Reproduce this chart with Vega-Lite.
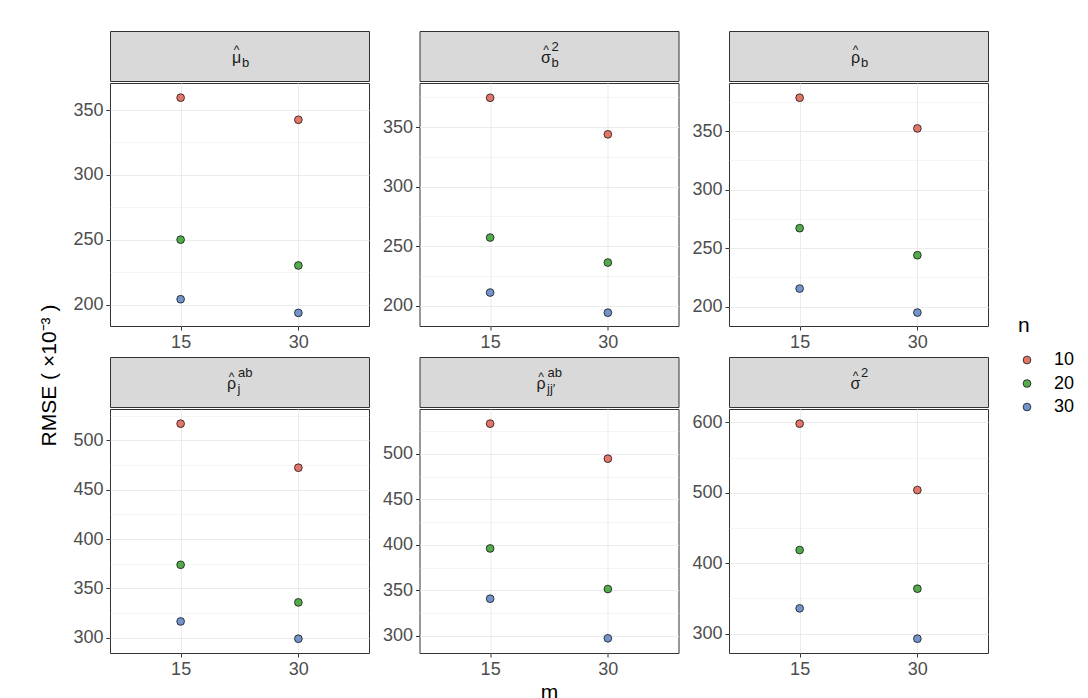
{
  "$schema": "https://vega.github.io/schema/vega-lite/v6.json",
  "padding": {"left": 39, "top": 30, "right": 5, "bottom": 5},
  "datasets": {
    "rmse": [
      {"param": "mu_b", "m": 15, "n": 10, "rmse": 359.5},
      {"param": "mu_b", "m": 30, "n": 10, "rmse": 342.5},
      {"param": "mu_b", "m": 15, "n": 20, "rmse": 250.2},
      {"param": "mu_b", "m": 30, "n": 20, "rmse": 230.3},
      {"param": "mu_b", "m": 15, "n": 30, "rmse": 204.3},
      {"param": "mu_b", "m": 30, "n": 30, "rmse": 193.8},
      {"param": "sigma_b2", "m": 15, "n": 10, "rmse": 374.6},
      {"param": "sigma_b2", "m": 30, "n": 10, "rmse": 343.9},
      {"param": "sigma_b2", "m": 15, "n": 20, "rmse": 257.2},
      {"param": "sigma_b2", "m": 30, "n": 20, "rmse": 236.2},
      {"param": "sigma_b2", "m": 15, "n": 30, "rmse": 211.0},
      {"param": "sigma_b2", "m": 30, "n": 30, "rmse": 194.1},
      {"param": "rho_b", "m": 15, "n": 10, "rmse": 378.5},
      {"param": "rho_b", "m": 30, "n": 10, "rmse": 352.3},
      {"param": "rho_b", "m": 15, "n": 20, "rmse": 267.0},
      {"param": "rho_b", "m": 30, "n": 20, "rmse": 243.9},
      {"param": "rho_b", "m": 15, "n": 30, "rmse": 215.4},
      {"param": "rho_b", "m": 30, "n": 30, "rmse": 194.9},
      {"param": "rho_j", "m": 15, "n": 10, "rmse": 516.9},
      {"param": "rho_j", "m": 30, "n": 10, "rmse": 472.3},
      {"param": "rho_j", "m": 15, "n": 20, "rmse": 373.9},
      {"param": "rho_j", "m": 30, "n": 20, "rmse": 335.8},
      {"param": "rho_j", "m": 15, "n": 30, "rmse": 316.5},
      {"param": "rho_j", "m": 30, "n": 30, "rmse": 299.0},
      {"param": "rho_jj", "m": 15, "n": 10, "rmse": 533.4},
      {"param": "rho_jj", "m": 30, "n": 10, "rmse": 494.8},
      {"param": "rho_jj", "m": 15, "n": 20, "rmse": 396.0},
      {"param": "rho_jj", "m": 30, "n": 20, "rmse": 351.3},
      {"param": "rho_jj", "m": 15, "n": 30, "rmse": 340.7},
      {"param": "rho_jj", "m": 30, "n": 30, "rmse": 297.1},
      {"param": "sigma2", "m": 15, "n": 10, "rmse": 598.2},
      {"param": "sigma2", "m": 30, "n": 10, "rmse": 504.0},
      {"param": "sigma2", "m": 15, "n": 20, "rmse": 418.8},
      {"param": "sigma2", "m": 30, "n": 20, "rmse": 363.9},
      {"param": "sigma2", "m": 15, "n": 30, "rmse": 336.0},
      {"param": "sigma2", "m": 30, "n": 30, "rmse": 292.9}
    ],
    "strips": [
      {"param": "mu_b", "base": "μ", "sup": "", "sub": "b"},
      {"param": "sigma_b2", "base": "σ", "sup": "2", "sub": "b"},
      {"param": "rho_b", "base": "ρ", "sup": "", "sub": "b"},
      {"param": "rho_j", "base": "ρ", "sup": "ab", "sub": "j"},
      {"param": "rho_jj", "base": "ρ", "sup": "ab", "sub": "jj′"},
      {"param": "sigma2", "base": "σ", "sup": "2", "sub": ""}
    ]
  },
  "title": {"text": "RMSE ( ×10⁻³ )", "orient": "left", "anchor": "middle", "fontSize": 21, "fontWeight": "normal", "color": "black", "offset": 12, "dx": -9},
  "columns": 3,
  "spacing": {"row": 4, "column": 11.5},
  "concat": [
    {"spacing": 0, "vconcat": [
      {"width": 259, "height": 50, "data": {"name": "strips"}, "transform": [{"filter": "datum.param === 'mu_b'"}],
       "view": {"fill": "#D9D9D9", "stroke": "#333333"},
       "layer": [
        {"mark": {"type": "text", "text": "^", "fontSize": 12, "dx": -3, "dy": -2, "baseline": "alphabetic", "color": "#1A1A1A"}},
        {"mark": {"type": "text", "fontSize": 16, "dx": -3, "dy": 7, "baseline": "alphabetic", "color": "#1A1A1A"}, "encoding": {"text": {"field": "base"}}},
        {"mark": {"type": "text", "fontSize": 13, "align": "left", "dx": 2.5, "dy": 11, "baseline": "alphabetic", "color": "#1A1A1A"}, "encoding": {"text": {"field": "sub"}}},
        {"mark": {"type": "text", "fontSize": 13, "align": "left", "dx": 2.5, "dy": -5.5, "baseline": "alphabetic", "color": "#1A1A1A"}, "encoding": {"text": {"field": "sup"}}}
       ]},
      {"width": 259, "height": 243, "data": {"name": "rmse"}, "transform": [{"filter": "datum.param === 'mu_b'"}],
       "mark": {"type": "point", "filled": true, "size": 60, "stroke": "black", "strokeWidth": 0.7, "opacity": 1},
       "encoding": {
        "x": {"field": "m", "type": "ordinal", "scale": {"type": "point", "padding": 0.6}, "axis": {"title": null, "grid": true, "labelAngle": 0}},
        "y": {"field": "rmse", "type": "quantitative", "scale": {"domain": [183.7, 370.8], "nice": false, "zero": false},
              "axis": {"title": null, "values": [200, 225, 250, 275, 300, 325, 350], "labelExpr": "datum.value % 50 === 0 ? datum.label : ''",
                       "gridWidth": {"condition": {"test": "datum.value % 50 === 0", "value": 1.1}, "value": 0.55},
                       "tickOpacity": {"condition": {"test": "datum.value % 50 === 0", "value": 1}, "value": 0}}},
        "fill": {"field": "n", "type": "nominal", "scale": {"domain": [10, 20, 30], "range": ["#E2766A", "#55AA4E", "#7393CB"]},
                 "legend": {"title": "n", "orient": "none", "legendX": 908, "legendY": 284}}
       }}
    ]},
    {"spacing": 0, "vconcat": [
      {"width": 259, "height": 50, "data": {"name": "strips"}, "transform": [{"filter": "datum.param === 'sigma_b2'"}],
       "view": {"fill": "#D9D9D9", "stroke": "#333333"},
       "layer": [
        {"mark": {"type": "text", "text": "^", "fontSize": 12, "dx": -3, "dy": -2, "baseline": "alphabetic", "color": "#1A1A1A"}},
        {"mark": {"type": "text", "fontSize": 16, "dx": -3, "dy": 7, "baseline": "alphabetic", "color": "#1A1A1A"}, "encoding": {"text": {"field": "base"}}},
        {"mark": {"type": "text", "fontSize": 13, "align": "left", "dx": 2.5, "dy": 11, "baseline": "alphabetic", "color": "#1A1A1A"}, "encoding": {"text": {"field": "sub"}}},
        {"mark": {"type": "text", "fontSize": 13, "align": "left", "dx": 2.5, "dy": -5.5, "baseline": "alphabetic", "color": "#1A1A1A"}, "encoding": {"text": {"field": "sup"}}}
       ]},
      {"width": 259, "height": 243, "data": {"name": "rmse"}, "transform": [{"filter": "datum.param === 'sigma_b2'"}],
       "mark": {"type": "point", "filled": true, "size": 60, "stroke": "black", "strokeWidth": 0.7, "opacity": 1},
       "encoding": {
        "x": {"field": "m", "type": "ordinal", "scale": {"type": "point", "padding": 0.6}, "axis": {"title": null, "grid": true, "labelAngle": 0}},
        "y": {"field": "rmse", "type": "quantitative", "scale": {"domain": [182.9, 387.0], "nice": false, "zero": false},
              "axis": {"title": null, "values": [200, 225, 250, 275, 300, 325, 350, 375], "labelExpr": "datum.value % 50 === 0 ? datum.label : ''",
                       "gridWidth": {"condition": {"test": "datum.value % 50 === 0", "value": 1.1}, "value": 0.55},
                       "tickOpacity": {"condition": {"test": "datum.value % 50 === 0", "value": 1}, "value": 0}}},
        "fill": {"field": "n", "type": "nominal"}
       }}
    ]},
    {"spacing": 0, "vconcat": [
      {"width": 259, "height": 50, "data": {"name": "strips"}, "transform": [{"filter": "datum.param === 'rho_b'"}],
       "view": {"fill": "#D9D9D9", "stroke": "#333333"},
       "layer": [
        {"mark": {"type": "text", "text": "^", "fontSize": 12, "dx": -3, "dy": -2, "baseline": "alphabetic", "color": "#1A1A1A"}},
        {"mark": {"type": "text", "fontSize": 16, "dx": -3, "dy": 7, "baseline": "alphabetic", "color": "#1A1A1A"}, "encoding": {"text": {"field": "base"}}},
        {"mark": {"type": "text", "fontSize": 13, "align": "left", "dx": 2.5, "dy": 11, "baseline": "alphabetic", "color": "#1A1A1A"}, "encoding": {"text": {"field": "sub"}}},
        {"mark": {"type": "text", "fontSize": 13, "align": "left", "dx": 2.5, "dy": -5.5, "baseline": "alphabetic", "color": "#1A1A1A"}, "encoding": {"text": {"field": "sup"}}}
       ]},
      {"width": 259, "height": 243, "data": {"name": "rmse"}, "transform": [{"filter": "datum.param === 'rho_b'"}],
       "mark": {"type": "point", "filled": true, "size": 60, "stroke": "black", "strokeWidth": 0.7, "opacity": 1},
       "encoding": {
        "x": {"field": "m", "type": "ordinal", "scale": {"type": "point", "padding": 0.6}, "axis": {"title": null, "grid": true, "labelAngle": 0}},
        "y": {"field": "rmse", "type": "quantitative", "scale": {"domain": [183.4, 391.1], "nice": false, "zero": false},
              "axis": {"title": null, "values": [200, 225, 250, 275, 300, 325, 350, 375], "labelExpr": "datum.value % 50 === 0 ? datum.label : ''",
                       "gridWidth": {"condition": {"test": "datum.value % 50 === 0", "value": 1.1}, "value": 0.55},
                       "tickOpacity": {"condition": {"test": "datum.value % 50 === 0", "value": 1}, "value": 0}}},
        "fill": {"field": "n", "type": "nominal"}
       }}
    ]},
    {"spacing": 0, "vconcat": [
      {"width": 259, "height": 50, "data": {"name": "strips"}, "transform": [{"filter": "datum.param === 'rho_j'"}],
       "view": {"fill": "#D9D9D9", "stroke": "#333333"},
       "layer": [
        {"mark": {"type": "text", "text": "^", "fontSize": 12, "dx": -8, "dy": -1.5, "baseline": "alphabetic", "color": "#1A1A1A"}},
        {"mark": {"type": "text", "fontSize": 16, "dx": -8, "dy": 7, "baseline": "alphabetic", "color": "#1A1A1A"}, "encoding": {"text": {"field": "base"}}},
        {"mark": {"type": "text", "fontSize": 13, "align": "left", "dx": -2, "dy": 10.5, "baseline": "alphabetic", "color": "#1A1A1A"}, "encoding": {"text": {"field": "sub"}}},
        {"mark": {"type": "text", "fontSize": 13, "align": "left", "dx": -1.5, "dy": -5.5, "baseline": "alphabetic", "color": "#1A1A1A"}, "encoding": {"text": {"field": "sup"}}}
       ]},
      {"width": 259, "height": 244, "data": {"name": "rmse"}, "transform": [{"filter": "datum.param === 'rho_j'"}],
       "mark": {"type": "point", "filled": true, "size": 60, "stroke": "black", "strokeWidth": 0.7, "opacity": 1},
       "encoding": {
        "x": {"field": "m", "type": "ordinal", "scale": {"type": "point", "padding": 0.6}, "axis": {"title": null, "grid": true, "labelAngle": 0}},
        "y": {"field": "rmse", "type": "quantitative", "scale": {"domain": [284.5, 531.8], "nice": false, "zero": false},
              "axis": {"title": null, "values": [300, 325, 350, 375, 400, 425, 450, 475, 500, 525], "labelExpr": "datum.value % 50 === 0 ? datum.label : ''",
                       "gridWidth": {"condition": {"test": "datum.value % 50 === 0", "value": 1.1}, "value": 0.55},
                       "tickOpacity": {"condition": {"test": "datum.value % 50 === 0", "value": 1}, "value": 0}}},
        "fill": {"field": "n", "type": "nominal"}
       }}
    ]},
    {"spacing": 0, "vconcat": [
      {"width": 259, "height": 50, "data": {"name": "strips"}, "transform": [{"filter": "datum.param === 'rho_jj'"}],
       "view": {"fill": "#D9D9D9", "stroke": "#333333"},
       "layer": [
        {"mark": {"type": "text", "text": "^", "fontSize": 12, "dx": -8, "dy": -1.5, "baseline": "alphabetic", "color": "#1A1A1A"}},
        {"mark": {"type": "text", "fontSize": 16, "dx": -8, "dy": 7, "baseline": "alphabetic", "color": "#1A1A1A"}, "encoding": {"text": {"field": "base"}}},
        {"mark": {"type": "text", "fontSize": 13, "align": "left", "dx": -2, "dy": 10.5, "baseline": "alphabetic", "color": "#1A1A1A"}, "encoding": {"text": {"field": "sub"}}},
        {"mark": {"type": "text", "fontSize": 13, "align": "left", "dx": -1.5, "dy": -5.5, "baseline": "alphabetic", "color": "#1A1A1A"}, "encoding": {"text": {"field": "sup"}}}
       ]},
      {"width": 259, "height": 244, "data": {"name": "rmse"}, "transform": [{"filter": "datum.param === 'rho_jj'"}],
       "mark": {"type": "point", "filled": true, "size": 60, "stroke": "black", "strokeWidth": 0.7, "opacity": 1},
       "encoding": {
        "x": {"field": "m", "type": "ordinal", "scale": {"type": "point", "padding": 0.6}, "axis": {"title": "m", "grid": true, "labelAngle": 0}},
        "y": {"field": "rmse", "type": "quantitative", "scale": {"domain": [280.9, 549.5], "nice": false, "zero": false},
              "axis": {"title": null, "values": [300, 325, 350, 375, 400, 425, 450, 475, 500, 525], "labelExpr": "datum.value % 50 === 0 ? datum.label : ''",
                       "gridWidth": {"condition": {"test": "datum.value % 50 === 0", "value": 1.1}, "value": 0.55},
                       "tickOpacity": {"condition": {"test": "datum.value % 50 === 0", "value": 1}, "value": 0}}},
        "fill": {"field": "n", "type": "nominal"}
       }}
    ]},
    {"spacing": 0, "vconcat": [
      {"width": 259, "height": 50, "data": {"name": "strips"}, "transform": [{"filter": "datum.param === 'sigma2'"}],
       "view": {"fill": "#D9D9D9", "stroke": "#333333"},
       "layer": [
        {"mark": {"type": "text", "text": "^", "fontSize": 12, "dx": -3, "dy": -2, "baseline": "alphabetic", "color": "#1A1A1A"}},
        {"mark": {"type": "text", "fontSize": 16, "dx": -3, "dy": 7, "baseline": "alphabetic", "color": "#1A1A1A"}, "encoding": {"text": {"field": "base"}}},
        {"mark": {"type": "text", "fontSize": 13, "align": "left", "dx": 2.5, "dy": 11, "baseline": "alphabetic", "color": "#1A1A1A"}, "encoding": {"text": {"field": "sub"}}},
        {"mark": {"type": "text", "fontSize": 13, "align": "left", "dx": 2.5, "dy": -5.5, "baseline": "alphabetic", "color": "#1A1A1A"}, "encoding": {"text": {"field": "sup"}}}
       ]},
      {"width": 259, "height": 244, "data": {"name": "rmse"}, "transform": [{"filter": "datum.param === 'sigma2'"}],
       "mark": {"type": "point", "filled": true, "size": 60, "stroke": "black", "strokeWidth": 0.7, "opacity": 1},
       "encoding": {
        "x": {"field": "m", "type": "ordinal", "scale": {"type": "point", "padding": 0.6}, "axis": {"title": null, "grid": true, "labelAngle": 0}},
        "y": {"field": "rmse", "type": "quantitative", "scale": {"domain": [272.6, 619.0], "nice": false, "zero": false},
              "axis": {"title": null, "values": [300, 350, 400, 450, 500, 550, 600], "labelExpr": "datum.value % 100 === 0 ? datum.label : ''",
                       "gridWidth": {"condition": {"test": "datum.value % 100 === 0", "value": 1.1}, "value": 0.55},
                       "tickOpacity": {"condition": {"test": "datum.value % 100 === 0", "value": 1}, "value": 0}}},
        "fill": {"field": "n", "type": "nominal"}
       }}
    ]}
  ],
  "config": {
    "font": "Liberation Sans",
    "view": {"stroke": "#333333", "strokeWidth": 1},
    "axis": {"domain": false, "labelFontSize": 18, "labelColor": "#4D4D4D", "labelPadding": 3, "tickColor": "#333333", "tickSize": 4, "tickWidth": 1, "gridColor": "#EBEBEB", "titleFontSize": 21, "titleFontWeight": "normal", "titleColor": "black", "titlePadding": 3},
    "legend": {"titleFontSize": 21, "titleFontWeight": "normal", "titleColor": "black", "labelFontSize": 18, "labelColor": "black", "symbolSize": 60, "symbolType": "circle", "symbolStrokeColor": "black", "symbolStrokeWidth": 0.7, "rowPadding": 5.5, "titlePadding": 15, "labelOffset": 18}
  }
}
